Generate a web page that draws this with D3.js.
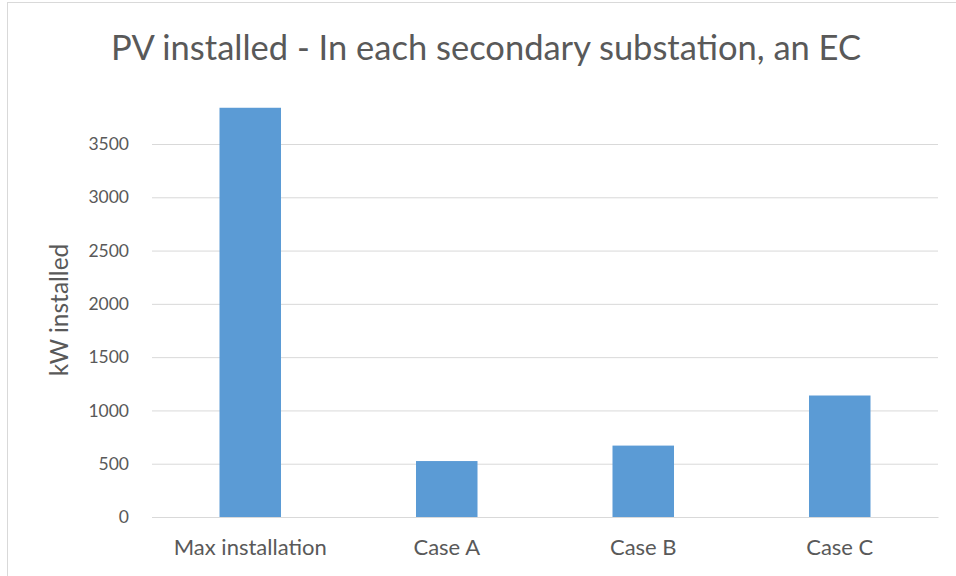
<!DOCTYPE html>
<html>
<head>
<meta charset="utf-8">
<script src="https://cdn.jsdelivr.net/npm/d3@7"></script>
<style>
  html, body { margin: 0; padding: 0; background: #fff; }
  svg { display: block; }
  svg text { font-family: Lato, "Open Sans", "Liberation Sans", sans-serif; }
</style>
</head>
<body>
<svg id="chart" width="956" height="576"></svg>
<script>
// Installed PV capacity per scenario
const categories = ["Max installation", "Case A", "Case B", "Case C"];
const values = [3840, 525, 670, 1140];
const yTicks = [0, 500, 1000, 1500, 2000, 2500, 3000, 3500];

const FONT = 'Lato, "Open Sans", "Liberation Sans", sans-serif';
const svg = d3.select("#chart");
const W = 956, H = 576;

// outer chart frame
svg.append("rect")
  .attr("x", 7.5).attr("y", 2.5)
  .attr("width", W + 10).attr("height", H + 10)
  .attr("fill", "#fff").attr("stroke", "#d9d9d9").attr("stroke-width", 1);

const plot = { left: 152, right: 938, top: 100, bottom: 517 };

const x = d3.scaleBand()
  .domain(categories)
  .range([plot.left, plot.right])
  .paddingInner(0.687)
  .paddingOuter(0.3435);

const y = d3.scaleLinear()
  .domain([0, 3500])
  .range([plot.bottom, 144]);

// horizontal gridlines with value labels
const yAxis = d3.axisLeft(y)
  .tickValues(yTicks)
  .tickSize(-(plot.right - plot.left))
  .tickPadding(23)
  .tickFormat(d3.format("d"));

const gy = svg.append("g")
  .attr("transform", `translate(${plot.left},0)`)
  .call(yAxis)
  .attr("font-family", FONT);
gy.select(".domain").remove();
gy.selectAll(".tick line").attr("stroke", "#d9d9d9").attr("stroke-width", 1);
gy.selectAll(".tick text")
  .attr("fill", "#595959")
  .style("font-size", "17.5px");

// bars
svg.append("g").selectAll("rect")
  .data(values)
  .join("rect")
  .attr("x", (d, i) => x(categories[i]))
  .attr("width", x.bandwidth())
  .attr("y", d => y(d))
  .attr("height", d => y(0) - y(d))
  .attr("fill", "#5b9bd5");

// category axis
const xAxis = d3.axisBottom(x).tickSize(0).tickPadding(22);
const gx = svg.append("g")
  .attr("transform", `translate(0,${plot.bottom})`)
  .call(xAxis)
  .attr("font-family", FONT);
gx.select(".domain").attr("stroke", "#d9d9d9");
gx.selectAll(".tick text")
  .attr("fill", "#595959")
  .style("font-size", "22px");

// y axis title
svg.append("text")
  .attr("transform", `translate(68,${310}) rotate(-90)`)
  .attr("text-anchor", "middle")
  .attr("fill", "#595959")
  .style("font-size", "24.5px")
  .text("kW installed");

// chart title
svg.append("text")
  .attr("x", 486)
  .attr("y", 60)
  .attr("text-anchor", "middle")
  .attr("fill", "#595959")
  .style("font-size", "34.5px")
  .text("PV installed - In each secondary substation, an EC");
</script>
</body>
</html>
